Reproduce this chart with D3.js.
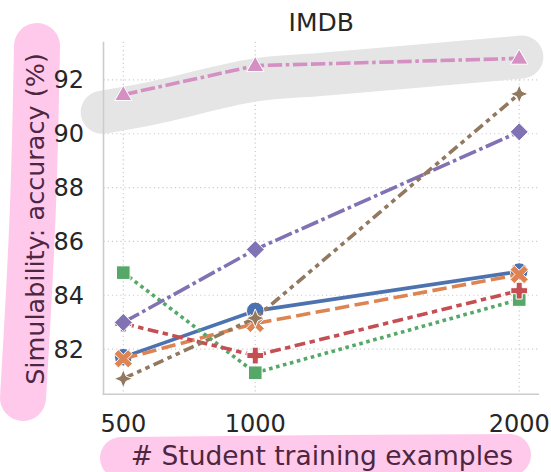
<!DOCTYPE html>
<html lang="en">
<head>
    <meta charset="UTF-8">
    <title>IMDB</title>
    <script src="https://cdn.jsdelivr.net/npm/d3@7"></script>
    <style>
        body { margin: 0; background: #fff; }
        text { font-family: "DejaVu Sans", sans-serif; }
    </style>
</head>
<body>
<script>

    // data
    var sizes = [500, 1000, 2000];
    var xTicks = [500, 1000, 2000];
    var yTicks = [82, 84, 86, 88, 90, 92];
    var seriesNames = ["s1", "s2", "s3", "s4", "s5", "s6", "s7"];
    var s1 = [81.7, 83.42, 84.88];
    var s2 = [81.64, 82.95, 84.77];
    var s3 = [84.84, 81.12, 83.84];
    var s4 = [82.95, 81.76, 84.17];
    var s5 = [82.99, 85.7, 90.07];
    var s6 = [80.9, 83.15, 91.48];
    var s7 = [91.45, 92.53, 92.8];
    var allValues = [s1, s2, s3, s4, s5, s6, s7];

    // highlight stroke behind the top series (data units)
    var glowX = [420, 601, 999, 1245, 2010];
    var glowY = [90.8, 91.12, 92.0, 92.2, 92.85];

    var colors = ["#4c72b0", "#dd8452", "#55a868", "#c44e52", "#8172b3", "#937860", "#d48fc3"];
    var lw = 3.6;
    var dashes = [
        null,
        [4, 1.5],
        [1, 1],
        [3, 1.25, 1.5, 1.25],
        [5, 1, 1, 1],
        [3, 1.25, 1.25, 1.25, 1.25, 1.25],
        [4, 1, 4, 1, 1, 1]
    ];
    var markers = ["circle", "x", "square", "plus", "diamond", "star", "triangle"];

    // canvas
    var width = 551;
    var height = 472;
    var svg = d3.select("body")
        .append("svg")
        .attr("width", width)
        .attr("height", height);

    var pLeft = 103.5, pRight = 539, pTop = 41.7, pBottom = 394.3;

    var x = d3.scaleLinear().domain([425, 2075]).range([pLeft, pRight]);
    var y = d3.scaleLinear().domain([80.32, 93.42]).range([pBottom, pTop]);

    // pink blobs behind axis labels
    svg.append("path")
        .attr("d", d3.line().curve(d3.curveBasis)([[37, 46], [34, 200], [27, 330], [23, 398]]))
        .attr("fill", "none")
        .attr("stroke", "#ffc9ec")
        .attr("stroke-width", 46)
        .attr("stroke-linecap", "round");

    svg.append("path")
        .attr("d", d3.line().curve(d3.curveBasis)([[121, 458], [300, 456], [510, 455]]))
        .attr("fill", "none")
        .attr("stroke", "#ffc9ec")
        .attr("stroke-width", 42)
        .attr("stroke-linecap", "round");

    // grid
    svg.append("g").selectAll("line")
        .data(yTicks)
        .enter()
        .append("line")
        .attr("x1", pLeft).attr("x2", pRight)
        .attr("y1", function (d) { return y(d); })
        .attr("y2", function (d) { return y(d); })
        .attr("stroke", "#cccccc")
        .attr("stroke-width", 1.2)
        .attr("stroke-dasharray", "1.2,3");

    svg.append("g").selectAll("line")
        .data(xTicks)
        .enter()
        .append("line")
        .attr("y1", pTop).attr("y2", pBottom)
        .attr("x1", function (d) { return x(d); })
        .attr("x2", function (d) { return x(d); })
        .attr("stroke", "#cccccc")
        .attr("stroke-width", 1.2)
        .attr("stroke-dasharray", "1.2,3");

    // grey highlight
    var glowPts = glowX.map(function (d, i) { return [x(d), y(glowY[i])]; });
    svg.append("path")
        .attr("d", d3.line().curve(d3.curveCatmullRom)(glowPts))
        .attr("fill", "none")
        .attr("stroke", "#e5e5e5")
        .attr("stroke-width", 43)
        .attr("stroke-linecap", "round");

    // spines
    svg.append("line")
        .attr("x1", pLeft).attr("x2", pLeft)
        .attr("y1", pTop).attr("y2", pBottom + 0.8)
        .attr("stroke", "#cccccc").attr("stroke-width", 1.6);
    svg.append("line")
        .attr("x1", pLeft - 0.8).attr("x2", pRight)
        .attr("y1", pBottom).attr("y2", pBottom)
        .attr("stroke", "#cccccc").attr("stroke-width", 1.6);

    // tick labels
    svg.append("g").selectAll("text")
        .data(yTicks)
        .enter()
        .append("text")
        .attr("x", 84)
        .attr("y", function (d) { return y(d) + 8.5; })
        .attr("text-anchor", "end")
        .attr("font-size", 24)
        .attr("fill", "#262626")
        .text(function (d) { return d; });

    svg.append("g").selectAll("text")
        .data(xTicks)
        .enter()
        .append("text")
        .attr("x", function (d) { return x(d); })
        .attr("y", 432)
        .attr("text-anchor", "middle")
        .attr("font-size", 24)
        .attr("fill", "#262626")
        .text(function (d) { return d; });

    // title and axis labels
    svg.append("text")
        .attr("x", (pLeft + pRight) / 2)
        .attr("y", 31)
        .attr("text-anchor", "middle")
        .attr("font-size", 25)
        .attr("fill", "#262626")
        .text("IMDB");

    svg.append("text")
        .attr("transform", "translate(44," + 219 + ") rotate(-90)")
        .attr("text-anchor", "middle")
        .attr("font-size", 25.5)
        .attr("fill", "#4d2640")
        .text("Simulability: accuracy (%)");

    svg.append("text")
        .attr("x", 322)
        .attr("y", 465)
        .attr("text-anchor", "middle")
        .attr("font-size", 26.5)
        .attr("fill", "#4d2640")
        .text("# Student training examples");

    // marker shapes
    function poly(pts) {
        return "M" + pts.map(function (p) { return p[0] + "," + p[1]; }).join("L") + "Z";
    }
    function markerPath(kind) {
        var i, pts = [];
        if (kind === "circle") {
            return d3.symbol().type(d3.symbolCircle).size(Math.PI * 8.8 * 8.8)();
        }
        if (kind === "square") {
            return poly([[-6.8, -6.8], [6.8, -6.8], [6.8, 6.8], [-6.8, 6.8]]);
        }
        if (kind === "diamond") {
            return poly([[0, -9], [9, 0], [0, 9], [-9, 0]]);
        }
        if (kind === "triangle") {
            return poly([[0, -9.2], [8.6, 5.8], [-8.6, 5.8]]);
        }
        if (kind === "star") {
            for (i = 0; i < 8; i++) {
                var a = -Math.PI / 2 + i * Math.PI / 4;
                var r = i % 2 === 0 ? 9.2 : 3.8;
                pts.push([r * Math.cos(a), r * Math.sin(a)]);
            }
            return poly(pts);
        }
        // plus and x: cross with arm half-width w
        var s = 8.4, w = 3;
        var cross = [[-w, -s], [w, -s], [w, -w], [s, -w], [s, w], [w, w], [w, s], [-w, s], [-w, w], [-s, w], [-s, -w], [-w, -w]];
        if (kind === "x") {
            var c = Math.SQRT1_2;
            cross = [[-w, -s - 1.5], [w, -s - 1.5], [w, -w], [s + 1.5, -w], [s + 1.5, w], [w, w], [w, s + 1.5], [-w, s + 1.5], [-w, w], [-s - 1.5, w], [-s - 1.5, -w], [-w, -w]]
                .map(function (p) { return [c * (p[0] - p[1]), c * (p[0] + p[1])]; });
        }
        return poly(cross);
    }

    // series lines and markers
    var line = d3.line()
        .x(function (d) { return x(d[0]); })
        .y(function (d) { return y(d[1]); });

    seriesNames.forEach(function (name, k) {
        var pts = sizes.map(function (s, i) { return [s, allValues[k][i]]; });
        var g = svg.append("g").attr("class", name);

        g.append("path")
            .attr("d", line(pts))
            .attr("fill", "none")
            .attr("stroke", colors[k])
            .attr("stroke-width", lw)
            .attr("stroke-dasharray", dashes[k] ? dashes[k].map(function (d) { return d * lw; }).join(",") : null);

        g.selectAll("path.m")
            .data(pts)
            .enter()
            .append("path")
            .attr("class", "m")
            .attr("d", markerPath(markers[k]))
            .attr("transform", function (d) { return "translate(" + x(d[0]) + "," + y(d[1]) + ")"; })
            .attr("fill", colors[k])
            .attr("stroke", "#ffffff")
            .attr("stroke-width", 1);
    });

</script>
</body>
</html>
